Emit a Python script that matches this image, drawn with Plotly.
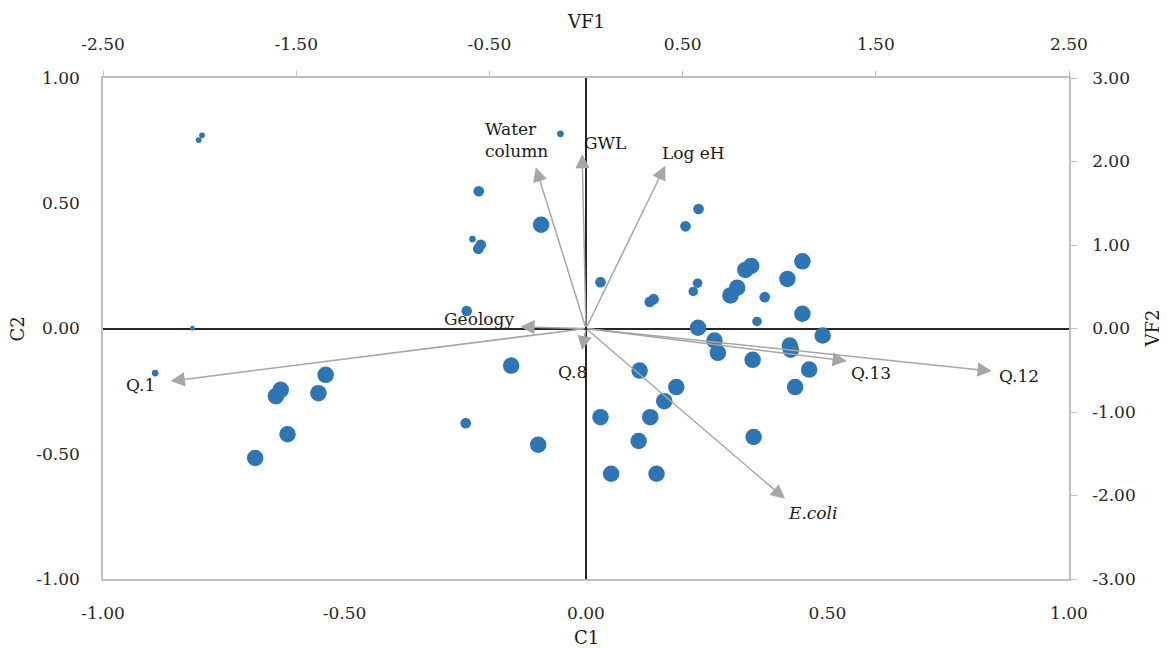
import plotly.graph_objects as go

# ---- Sample scores (C1 / C2) with bubble weights ----
c1 = [-0.795, -0.802, -0.053, -0.222, -0.093, -0.235, -0.218, -0.223, -0.247, -0.815,
      0.233, 0.206, 0.030, 0.448, 0.330, 0.342, 0.417, 0.313, 0.299, 0.370,
      0.231, 0.222, 0.140, 0.132, 0.448, 0.354, 0.232,
      0.490, 0.266, 0.273, 0.422, 0.424, 0.345, 0.462, 0.433, 0.111, 0.187,
      0.162, 0.030, 0.133, 0.109, 0.347, 0.052, 0.146,
      -0.892, -0.539, -0.632, -0.642, -0.554, -0.618, -0.685, -0.155, -0.249, -0.099]
c2 = [0.771, 0.752, 0.777, 0.548, 0.414, 0.357, 0.334, 0.318, 0.070, 0.001,
      0.477, 0.408, 0.185, 0.268, 0.234, 0.250, 0.198, 0.163, 0.132, 0.125,
      0.181, 0.148, 0.117, 0.106, 0.059, 0.028, 0.003,
      -0.028, -0.048, -0.097, -0.068, -0.085, -0.125, -0.164, -0.234, -0.168, -0.234,
      -0.290, -0.354, -0.354, -0.449, -0.433, -0.580, -0.580,
      -0.178, -0.185, -0.245, -0.270, -0.258, -0.422, -0.517, -0.148, -0.378, -0.464]
bubble = [1.5, 1.5, 2, 5, 12, 2, 5, 5, 5, 1,
          5, 5, 5, 12, 12, 12, 12, 12, 12, 5,
          4, 4, 5, 5, 12, 4, 12,
          12, 12, 12, 12, 12, 12, 12, 12, 12, 12,
          12, 12, 12, 12, 12, 12, 12,
          2, 12, 12, 12, 12, 12, 12, 12, 5, 12]

# ---- Variable loadings (VF1 / VF2) ----
var_names = ["Q.1", "Water<br>column", "GWL", "Log eH", "Geology", "Q.8", "Q.13", "Q.12", "<i>E.coli</i>"]
vf1 = [-2.15, -0.26, -0.02, 0.41, -0.34, -0.02, 1.35, 2.10, 1.03]
vf2 = [-0.63, 1.93, 2.09, 1.95, 0.02, -0.26, -0.39, -0.51, -2.04]

# ---- Axis ticks ----
c_ticks = [-1.0, -0.5, 0.0, 0.5, 1.0]
vf1_ticks = [-2.5, -1.5, -0.5, 0.5, 1.5, 2.5]
vf2_ticks = [-3, -2, -1, 0, 1, 2, 3]

def lab(v):
    return f"{v:.2f}"

SERIF = "DejaVu Serif"
TICKFONT = dict(family=SERIF, size=17, color="#262626")
FRAME = "#bfbfbf"

fig = go.Figure()

max_b = max(bubble)
fig.add_trace(go.Scatter(
    x=c1, y=c2, mode="markers",
    marker=dict(size=bubble, sizemode="area", sizeref=2.0 * max_b / (16.5 ** 2),
                color="#2e75b6", opacity=1, line=dict(width=0)),
    hoverinfo="skip", showlegend=False, xaxis="x", yaxis="y"))

# invisible trace to activate secondary axes
fig.add_trace(go.Scatter(
    x=vf1, y=vf2, mode="markers", marker=dict(opacity=0, size=1),
    hoverinfo="skip", showlegend=False, xaxis="x2", yaxis="y2"))

# label offsets (pixels) relative to arrow tips
offsets = [
    dict(xanchor="right", yanchor="middle", xshift=-14, yshift=-4, align="right"),
    dict(xanchor="left", yanchor="middle", xshift=-53, yshift=27, align="left"),
    dict(xanchor="left", yanchor="middle", xshift=0, yshift=11, align="left"),
    dict(xanchor="left", yanchor="middle", xshift=-5, yshift=13, align="left"),
    dict(xanchor="right", yanchor="middle", xshift=-4, yshift=8, align="right"),
    dict(xanchor="center", yanchor="middle", xshift=-10, yshift=-22, align="center"),
    dict(xanchor="left", yanchor="middle", xshift=2, yshift=-12, align="left"),
    dict(xanchor="left", yanchor="middle", xshift=5, yshift=-5, align="left"),
    dict(xanchor="left", yanchor="middle", xshift=1, yshift=-14, align="left"),
]

annotations = []
for name, vx, vy, off in zip(var_names, vf1, vf2, offsets):
    annotations.append(dict(
        x=vx, y=vy, xref="x2", yref="y2", ax=0, ay=0, axref="x2", ayref="y2",
        text="", showarrow=True, arrowhead=2, arrowsize=1.9, arrowwidth=1.5,
        arrowcolor="#a6a6a6", standoff=0, startstandoff=0))
    annotations.append(dict(
        x=vx, y=vy, xref="x2", yref="y2", text=name, showarrow=False,
        font=dict(family=SERIF, size=17, color="#1a1a1a"), **off))

# axis titles
title_font = dict(family=SERIF, size=18, color="#1a1a1a")
annotations += [
    dict(text="VF1", xref="paper", yref="paper", x=0.5, y=1.112, showarrow=False,
         font=title_font, xanchor="center", yanchor="middle"),
    dict(text="C1", xref="paper", yref="paper", x=0.5, y=-0.116, showarrow=False,
         font=title_font, xanchor="center", yanchor="middle"),
    dict(text="C2", xref="paper", yref="paper", x=-0.088, y=0.5, showarrow=False,
         font=title_font, xanchor="center", yanchor="middle", textangle=-90),
    dict(text="VF2", xref="paper", yref="paper", x=1.086, y=0.5, showarrow=False,
         font=title_font, xanchor="center", yanchor="middle", textangle=-90),
]

# page body adds an 8px offset; compensate so the plot frame lands at 103..1069 x 78..579
fig.update_layout(
    width=1159, height=640,
    margin=dict(l=95, r=98, t=70, b=69, autoexpand=False),
    paper_bgcolor="white", plot_bgcolor="white",
    showlegend=False,
    xaxis=dict(range=[-1, 1], tickvals=c_ticks, ticktext=[lab(v) for v in c_ticks],
               showgrid=False, zeroline=True, zerolinecolor="#262626", zerolinewidth=1.5,
               showline=True, linecolor=FRAME, linewidth=1.5, ticks="",
               tickfont=TICKFONT, ticklabelstandoff=18, fixedrange=True),
    xaxis2=dict(range=[-2.5, 2.5], overlaying="x", side="top", tickvals=vf1_ticks,
                ticktext=[lab(v) for v in vf1_ticks], showgrid=False, zeroline=False,
                showline=True, linecolor=FRAME, linewidth=1.5, ticks="outside",
                ticklen=5, tickcolor=FRAME, tickwidth=1.2,
                tickfont=TICKFONT, ticklabelstandoff=14, fixedrange=True),
    yaxis=dict(range=[-1, 1], tickvals=c_ticks, ticktext=[lab(v) for v in c_ticks],
               showgrid=False, zeroline=True, zerolinecolor="#262626", zerolinewidth=1.5,
               showline=True, linecolor=FRAME, linewidth=1.5, ticks="",
               tickfont=TICKFONT, ticklabelstandoff=18, fixedrange=True),
    yaxis2=dict(range=[-3, 3], overlaying="y", side="right", tickvals=vf2_ticks,
                ticktext=[lab(v) for v in vf2_ticks], showgrid=False, zeroline=False,
                showline=True, linecolor=FRAME, linewidth=1.5, ticks="outside",
                ticklen=6, tickcolor=FRAME, tickwidth=1.2,
                tickfont=TICKFONT, ticklabelstandoff=12, fixedrange=True),
    annotations=annotations,
)

fig.write_html("out.html")
